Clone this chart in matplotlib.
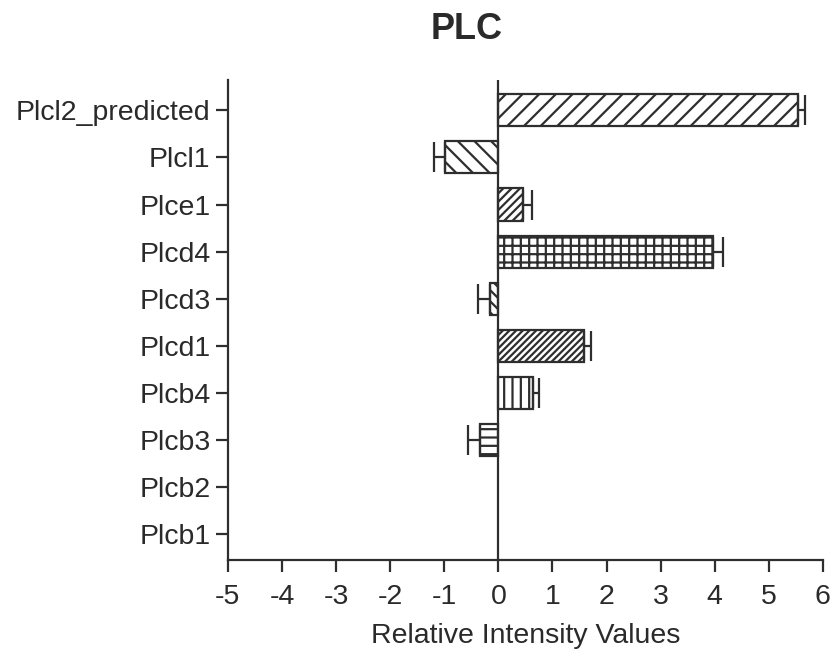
import matplotlib
matplotlib.use("Agg")
import matplotlib.pyplot as plt

plt.rcParams['font.family'] = ['Liberation Sans', 'DejaVu Sans']
plt.rcParams['hatch.linewidth'] = 1.6

genes = ["Plcb1", "Plcb2", "Plcb3", "Plcb4", "Plcd1", "Plcd3", "Plcd4",
         "Plce1", "Plcl1", "Plcl2_predicted"]
values = [0.0, 0.0, -0.34, 0.64, 1.58, -0.16, 3.96, 0.45, -0.99, 5.54]
errors = [0.0, 0.0, 0.23, 0.11, 0.13, 0.22, 0.19, 0.17, 0.2, 0.13]
hatches = ["", "", "--", "||", "/////", "\\\\\\", "++", "////", "\\\\", "//"]

fig = plt.figure(figsize=(8.38, 6.6), dpi=100)
ax = fig.add_axes([0.272, 0.1515, 0.710, 0.727])

ink = "#2e2e2e"
text_col = "#2a2a2a"
for i, val in enumerate(values):
    if val == 0:
        continue
    e = errors[i]
    ax.barh(i, val, height=0.68, color="white", edgecolor=ink,
            linewidth=1.6, hatch=hatches[i], zorder=2)
    ax.errorbar(val, i, xerr=[[0], [e]] if val > 0 else [[e], [0]],
                fmt="none", ecolor=ink, elinewidth=1.6, capsize=11,
                capthick=1.6, zorder=3)

ax.axvline(0, color=ink, linewidth=1.6, zorder=4)

ax.set_xlim(-5, 6)
ax.set_ylim(-0.55, 9.64)
ax.set_xticks(range(-5, 7))
ax.set_xticklabels([str(t) for t in range(-5, 7)])
ax.set_yticks(range(len(genes)))
ax.set_yticklabels(genes)

for side in ("top", "right"):
    ax.spines[side].set_visible(False)
for side in ("left", "bottom"):
    ax.spines[side].set_color(ink)
    ax.spines[side].set_linewidth(1.6)

ax.tick_params(axis="both", colors=ink, width=1.6, length=8.5,
               labelsize=20.5, labelcolor=text_col)
ax.tick_params(axis="y", pad=4)
ax.tick_params(axis="x", pad=9)

ax.set_xlabel("Relative Intensity Values", fontsize=20.5, color=text_col, labelpad=9)
fig.suptitle("PLC", x=0.557, y=0.982, fontsize=26, fontweight="bold", color=text_col)

fig.savefig("out.png", dpi=100, facecolor="white")
